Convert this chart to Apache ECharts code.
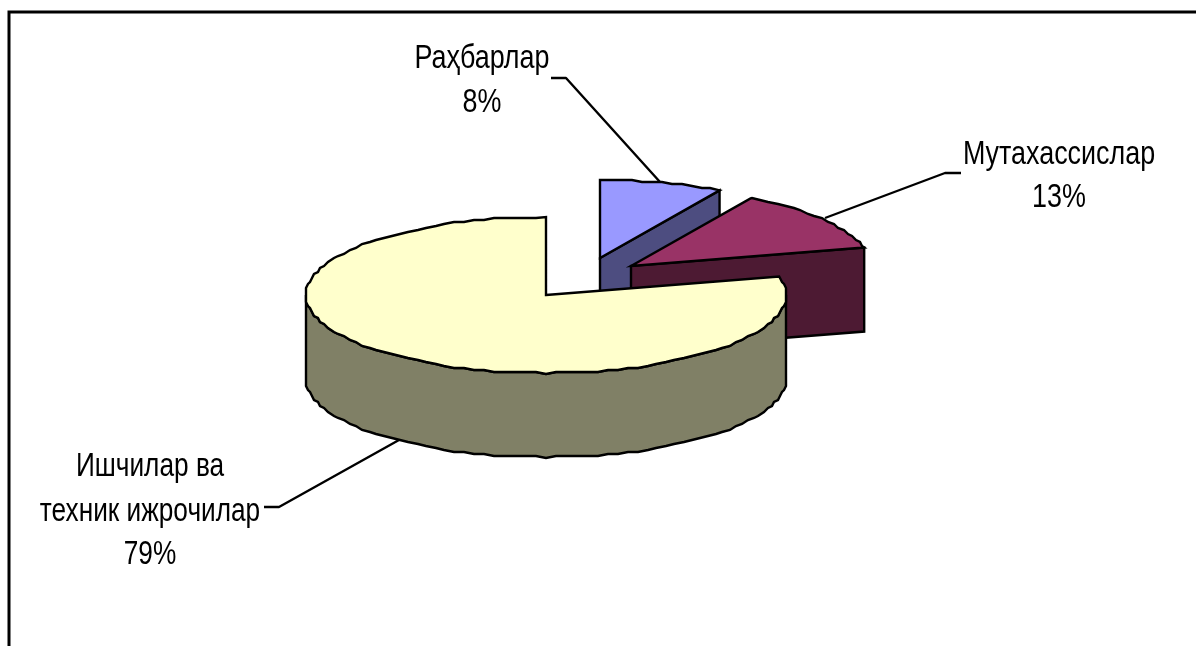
<!DOCTYPE html>
<html><head><meta charset="utf-8">
<style>html,body{margin:0;padding:0;background:#fff}#c{width:1196px;height:646px}</style>
<script src="https://cdn.jsdelivr.net/npm/echarts@6/dist/echarts.min.js"></script>
</head><body><div id="c"></div>
<script>
const categories = ['Раҳбарлар', 'Мутахассислар', 'Ишчилар ва\nтехник ижрочилар'];
const shares = [8.3, 12.9, 78.8];
const topColors = ['#9999ff', '#993366', '#ffffcc'];
const sideColors = ['#4d4d80', '#4d1a33', '#808066'];
// slice apex after explosion, in the hidden pixel-scale axes
const apexX = [600, 631, 546];
const apexY = [258, 266, 295];
const labelX = [482, 1059, 150];
const labelBaselines = [[67, 111], [163, 206], [475, 520, 563]];
const labelScale = [0.815, 0.815, 0.795];
const leaders = [
  [[551, 78], [566, 78], [660, 182]],
  [[961, 173], [945, 173], [825, 218]],
  [[264, 507], [279, 507], [399, 440]]
];
const RX = 240, RY = 78, DEPTH = 84, GRID = 2, STEP = 2.5, DESCENT = 8;

const total = shares.reduce((a, b) => a + b, 0);
const starts = [];
shares.reduce((acc, v, i) => { starts[i] = acc; return acc + v; }, 0);

function rimPoint(c, deg, dy, rough) {
  const r = deg * Math.PI / 180;
  let x = c[0] + RX * Math.sin(r), y = c[1] - RY * Math.cos(r) + dy;
  if (rough) { x = Math.round(x / GRID) * GRID; y = Math.round(y / GRID) * GRID; }
  return [x, y];
}
function arc(c, a0, a1, dy) {
  const pts = [rimPoint(c, a0, dy, false)];
  for (let a = Math.ceil(a0 / STEP) * STEP; a < a1; a += STEP) if (a > a0) pts.push(rimPoint(c, a, dy, true));
  pts.push(rimPoint(c, a1, dy, false));
  return pts;
}
const edge = { stroke: '#000', lineWidth: 2.4, lineJoin: 'miter' };

function renderSlice(params, api) {
  const i = api.value(0);
  const c = api.coord([api.value(1), api.value(2)]);
  const a0 = starts[i] / total * 360, a1 = (starts[i] + api.value(3)) / total * 360;
  const kids = [];
  if (a1 < 180) {
    const e = rimPoint(c, a1, 0, false), b = rimPoint(c, a1, DEPTH, false);
    kids.push({ type: 'polygon', shape: { points: [c, e, b, [c[0], c[1] + DEPTH]] },
      style: Object.assign({ fill: sideColors[i] }, edge) });
  }
  const r0 = Math.max(a0, 90), r1 = Math.min(a1, 270);
  if (r1 > r0) {
    const top = arc(c, r0, r1, 0), bot = arc(c, r0, r1, DEPTH).reverse();
    kids.push({ type: 'polygon', shape: { points: top.concat(bot) },
      style: Object.assign({ fill: sideColors[i] }, edge) });
  }
  kids.push({ type: 'polygon', shape: { points: [c].concat(arc(c, a0, a1, 0)) },
    style: Object.assign({ fill: topColors[i] }, edge) });
  return { type: 'group', children: kids };
}
function renderLabel(params, api) {
  const i = api.value(0);
  const lines = (categories[i] + '\n' + Math.round(shares[i]) + '%').split('\n');
  return { type: 'group', children: lines.map((t, k) => {
    const p = api.coord([labelX[i], labelBaselines[i][k] + DESCENT]);
    return { type: 'text', x: p[0], y: p[1], scaleX: labelScale[i], scaleY: 1,
      style: { text: t, font: '33px "Liberation Sans"', fill: '#000', align: 'center', verticalAlign: 'bottom' } };
  }) };
}
const chart = echarts.init(document.getElementById('c'), null, { renderer: 'canvas' });
chart.setOption({
  animation: false,
  backgroundColor: '#fff',
  grid: { left: 0, right: 0, top: 0, bottom: 0 },
  xAxis: { type: 'value', min: 0, max: 1196, show: false },
  yAxis: { type: 'value', min: 0, max: 646, inverse: true, show: false },
  graphic: [
    { type: 'polyline', silent: true, z: -1, shape: { points: [[9, 647], [9, 12], [1197, 12]] }, style: { stroke: '#000', lineWidth: 3, fill: null } }
  ],
  series: [
    { type: 'custom', silent: true, clip: false, renderItem: renderSlice, z: 2,
      encode: { x: 1, y: 2 },
      data: shares.map((v, i) => [i, apexX[i], apexY[i], v]) },
    ...leaders.map(pts => ({ type: 'line', silent: true, symbol: 'none', z: 1, animation: false,
      lineStyle: { color: '#000', width: 2.4 }, data: pts })),
    { type: 'custom', silent: true, clip: false, renderItem: renderLabel, z: 3,
      encode: { x: 1, y: 2 },
      data: shares.map((v, i) => [i, labelX[i], labelBaselines[i][0]]) }
  ]
});
</script></body></html>
